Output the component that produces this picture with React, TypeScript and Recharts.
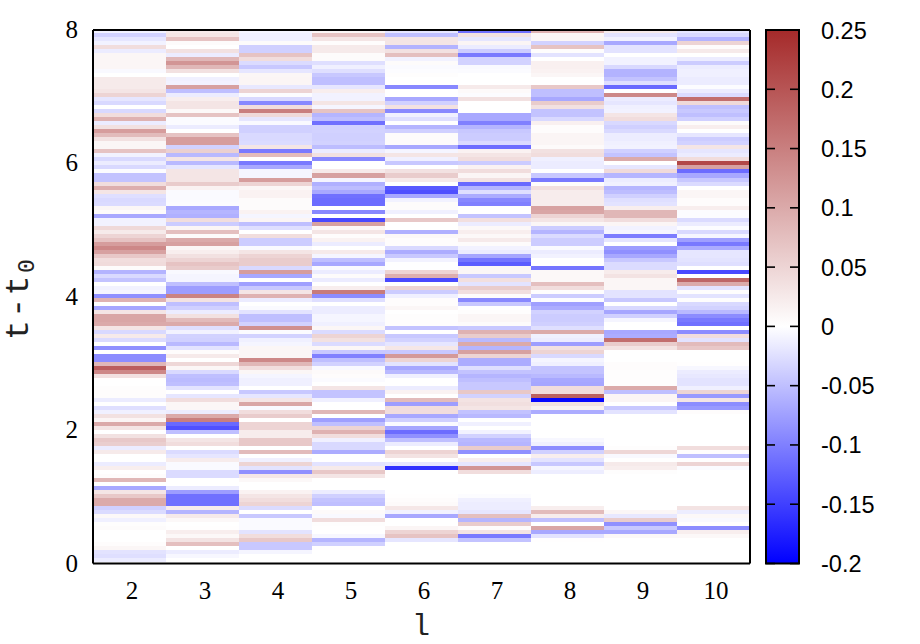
import { BarChart, Bar, ComposedChart, ReferenceArea, XAxis, YAxis, Label } from 'recharts'

const levels = [2, 3, 4, 5, 6, 7, 8, 9, 10]
const timeTicks = [0, 2, 4, 6, 8]
const scaleTicks = [-0.2, -0.15, -0.1, -0.05, 0, 0.05, 0.1, 0.15, 0.2, 0.25]
const rowStep = 0.0601
const bottomPad = 0.0185

// one value per time row, top of the plot first
const l2 = [
  -.01, -.035, -.02, -.01, .04, -.015, .01, .01, .01, .01,
  -.005, 0, .025, .025, .025, .03, .05, -.02, -.03, 0,
  -.03, .04, .09, -.015, .035, .115, .08, .035, .01, .01,
  .07, -.01, -.03, -.015, -.03, -.002, -.047, -.047, .04, .095,
  .03, -.025, -.03, -.028, .01, .005, -.068, -.01, -.01, .045,
  .025, .05, .07, .115, .14, .11, .065, .04, .042, .005,
  -.06, -.03, -.047, 0, -.01, -.008, -.087, .09, 0, -.07,
  .03, .105, .105, .1, .03, -.03, .025, -.028, 0, -.087,
  0, -.09, -.09, .085, .19, .14, .035, 0, 0, .002,
  .004, .004, -.015, 0, -.025, -.012, .035, .012, .1, .03,
  0, .035, .065, .058, -.015, .025, 0, 0, -.015, .02,
  0, .004, .085, 0, -.068, .03, .065, .1, .1, -.037,
  -.028, .008, -.012, .002, .005, 0, 0, 0, .004, .01,
  -.022, -.025, -.015,
]
const l3 = [
  .025, .03, .07, .005, 0, .035, -.015, .085, .125, .085,
  .035, 0, -.012, -.01, .11, -.05, -.015, .02, .03, .03,
  .008, .07, -.003, -.003, -.015, 0, .07, .115, .115, -.035,
  .055, -.055, .03, -.055, -.02, .03, .03, .03, .06, .015,
  -.004, -.004, -.004, -.003, -.068, -.058, -.062, .04, -.04, .012,
  .075, .005, .1, .11, .01, .02, .035, .05, .07, .06,
  -.005, -.008, -.008, -.05, -.077, -.077, .145, .033, -.05, -.037,
  -.015, .035, .08, .1, -.025, -.01, -.035, -.037, -.055, -.022,
  .003, .025, 0, .047, .01, -.03, -.05, -.053, -.05, -.022,
  0, -.02, .04, .01, .01, -.015, .1, .15, -.118, -.137,
  -.05, 0, .03, .04, 0, -.028, -.02, .022, -.004, -.004,
  -.028, -.028, 0, 0, -.015, -.077, -.112, -.112, -.112, .022,
  -.058, .025, .008, 0, .001, .02, .008, .033, .075, 0,
  -.015, -.006, 0,
]
const l4 = [
  -.008, -.012, -.012, .005, -.037, -.037, .07, .04, -.028, -.043,
  -.02, .01, .012, .012, -.018, .05, -.002, -.03, -.093, .04,
  .15, .045, -.02, -.005, -.037, -.037, -.03, -.03, -.028, .03,
  -.105, .08, 0, -.105, -.068, -.008, -.008, .115, .05, .01,
  .015, .015, .005, .005, .005, .015, -.008, .012, -.05, -.025,
  0, .04, -.04, -.04, -.005, .03, .05, .06, .06, -.03,
  .115, -.068, 0, -.075, -.043, .03, .09, -.015, 0, -.004,
  -.022, -.05, -.05, -.035, .13, -.003, -.035, -.012, -.008, .01,
  .01, .01, .14, .085, .04, .01, -.008, -.012, -.012, 0,
  -.043, -.02, .03, .105, -.005, .04, .06, 0, .05, .05,
  .022, .022, .065, .065, 0, .08, 0, -.012, .05, -.022,
  -.087, .028, .008, 0, 0, .015, .03, .04, .05, -.028,
  0, -.043, -.004, -.004, -.004, -.022, .04, .065, -.043, -.043,
  -.008, 0, 0,
]
const l5 = [
  .01, .07, .03, .003, .025, .025, .005, .005, -.025, -.012,
  -.025, -.043, -.05, -.05, -.02, .02, -.01, -.01, .03, -.008,
  .07, -.058, -.05, -.112, -.035, -.035, -.037, -.037, -.035, -.052,
  -.015, .035, -.093, 0, 0, .025, .11, -.008, -.062, -.052,
  -.068, -.112, -.115, -.115, 0, -.093, 0, -.143, .11, .008,
  .03, .004, .015, -.015, 0, .025, -.008, -.05, -.068, -.004,
  -.015, .005, -.015, 0, .02, .155, -.09, -.025, 0, -.015,
  -.015, -.008, -.008, -.012, .01, -.028, .05, .035, -.028, .01,
  -.043, -.1, -.05, -.035, -.005, .006, .003, -.003, 0, .03,
  -.047, -.047, -.012, 0, 0, .085, 0, -.075, -.05, .05,
  .09, .04, -.012, -.03, -.03, -.065, 0, 0, -.022, .025,
  .065, .03, 0, 0, 0, -.015, -.037, -.047, -.05, 0,
  .006, -.005, .04, .002, .001, 0, -.006, -.058, -.037, .001,
  0, 0, 0,
]
const l6 = [
  -.02, -.05, .03, .03, -.06, .035, .075, -.01, .005, -.004,
  -.002, .002, 0, 0, -.093, 0, 0, -.068, -.037, .035,
  -.093, -.012, -.025, 0, -.058, -.037, .005, .005, .005, -.068,
  -.008, .03, -.012, -.043, 0, .035, .06, .025, 0, -.13,
  -.137, -.068, -.01, .005, .005, -.012, 0, .065, 0, 0,
  -.062, .008, .004, .003, -.03, -.065, -.043, -.01, -.001, -.001,
  .05, .095, -.143, 0, .05, -.04, -.012, .003, .003, .01,
  0, .002, .002, .002, -.047, 0, -.043, -.035, -.02, .028,
  -.043, .12, .05, -.022, -.07, -.055, -.012, 0, 0, -.015,
  .015, 0, .08, -.077, .04, .04, -.068, -.037, -.004, -.07,
  -.115, -.087, -.05, -.015, 0, .05, .033, 0, -.02, -.162,
  0, 0, 0, 0, 0, 0, .001, .003, .006, .028,
  -.01, -.068, 0, 0, .012, .05, .07, -.02, 0, 0,
  0, 0, 0,
]
const l7 = [
  -.112, .035, -.02, .012, -.015, -.04, -.105, -.035, -.035, -.005,
  -.003, 0, 0, 0, .025, .006, -.002, .035, 0, 0,
  0, -.068, -.068, -.1, -.058, -.043, -.04, -.04, -.03, -.115,
  .015, .03, .04, -.04, .015, .04, .012, .035, -.118, -.058,
  -.025, -.065, -.093, -.1, 0, 0, -.047, .037, -.015, .008,
  .02, .008, .025, .005, -.01, -.015, -.07, -.108, -.128, .01,
  .01, -.043, .037, -.022, .06, .037, .004, -.093, -.043, 0,
  .002, .01, .01, .005, -.043, .09, .06, -.055, .1, -.058,
  .11, .05, -.065, -.065, -.025, -.047, -.058, -.05, -.043, -.043,
  .065, -.035, .033, .038, .03, -.047, -.055, 0, -.012, 0,
  -.01, -.035, -.055, -.058, .06, -.087, 0, .02, -.02, .125,
  .04, 0, 0, 0, 0, 0, -.002, -.012, -.014, -.014,
  -.02, .075, -.058, .06, .003, .033, -.105, -.047, 0, 0,
  0, 0, 0,
]
const l8 = [
  .09, .01, .01, -.035, .07, .002, -.022, 0, .018, .018,
  .015, .01, 0, 0, .065, -.05, -.05, -.068, .06, .035,
  -.047, -.047, -.03, .018, .003, .003, .012, .012, .012, .006,
  .035, .04, -.012, -.015, -.015, 0, -.043, -.105, .004, .037,
  .022, .022, .022, .022, .11, .105, .05, .03, .01, -.04,
  -.058, -.028, -.04, -.04, -.005, -.015, -.01, 0, 0, -.108,
  .008, .008, .008, .075, .04, .002, -.04, -.002, -.075, -.065,
  -.035, -.04, -.04, -.037, -.025, .1, -.012, -.015, -.077, .035,
  .05, -.03, -.008, -.012, -.047, -.047, -.055, -.068, -.07, .04,
  .04, .185, -.195, .035, .015, -.065, 0, 0, 0, 0,
  0, 0, -.006, -.012, -.09, -.037, .02, -.022, -.043, -.008,
  -.014, 0, 0, 0, 0, 0, 0, 0, 0, .02,
  .08, .022, -.05, 0, .105, -.068, -.022, .001, 0, 0,
  0, 0, 0,
]
const l9 = [
  .025, -.022, -.01, -.068, -.022, -.022, 0, -.01, -.01, -.03,
  -.06, -.06, -.047, -.025, -.118, 0, .14, -.015, -.02, -.012,
  -.01, .03, .04, -.03, -.037, -.03, -.015, -.015, -.012, -.01,
  -.037, -.047, .1, 0, -.02, .043, -.058, -.015, -.012, -.058,
  -.052, -.037, -.025, -.022, .02, .085, .085, .04, .012, -.01,
  -.008, -.102, -.02, 0, -.077, -.087, -.068, -.043, -.028, -.028,
  .022, .033, .01, .01, .01, -.022, -.022, -.043, 0, -.03,
  -.07, -.037, -.008, 0, 0, -.068, -.065, .17, .06, .033,
  0, 0, 0, .004, .003, .002, .002, .002, .002, .1,
  -.05, .012, .012, 0, -.043, -.022, 0, 0, 0, 0,
  0, 0, 0, 0, .002, .047, -.005, 0, .025, .02,
  .002, 0, 0, 0, 0, 0, 0, 0, 0, 0,
  .01, -.018, .06, -.087, -.043, -.068, .008, 0, 0, 0,
  0, 0, 0,
]
const l10 = [
  -.02, -.03, -.06, .05, .003, .025, 0, -.015, -.04, -.015,
  -.012, -.012, -.015, -.015, -.002, -.015, -.028, .17, .045, -.05,
  -.043, -.05, -.037, .005, .02, 0, -.02, -.04, -.035, .03,
  -.02, -.015, .04, .215, .11, -.115, -.068, -.043, -.028, 0,
  .01, .01, .004, .004, .02, -.002, -.002, -.028, -.015, -.002,
  -.03, -.008, -.075, -.105, -.065, -.02, -.02, -.022, -.025, 0,
  -.143, 0, .18, .1, -.022, .002, -.022, .002, -.03, -.035,
  -.055, -.09, -.105, -.112, 0, -.09, .04, -.022, .08, .065,
  0, 0, 0, .001, -.006, -.015, -.018, -.022, -.022, -.012,
  .05, -.08, .03, -.09, -.08, .004, 0, 0, 0, 0,
  0, 0, 0, 0, .04, .002, -.05, .001, .05, -.003,
  0, 0, 0, 0, 0, 0, 0, 0, 0, .033,
  -.014, .008, -.005, .001, -.09, .02, .008, 0, 0, 0,
  0, 0, 0,
]
const columns = [l2, l3, l4, l5, l6, l7, l8, l9, l10]
const rows = l2.map((_, i) => i)

// table for the stack: bottom row goes first
const tableData = levels.map((l) => {
  const entry: Record<string, number> = { l, pad: bottomPad }
  rows.forEach((r) => {
    entry[`r${r}`] = rowStep
  })
  return entry
})

const BLUE = [0, 0, 255]
const BROWN = [165, 42, 42]

function colorOf(v: number) {
  const end = v < 0 ? BLUE : BROWN
  const f = v < 0 ? Math.min(-v / 0.2, 1) : Math.min(v / 0.25, 1)
  const c = end.map((e) => Math.round(255 + (e - 255) * f))
  return `rgb(${c[0]},${c[1]},${c[2]})`
}

const serif = '"Liberation Serif", serif'
const sans = '"Liberation Sans", sans-serif'
const mono = '"Liberation Mono", monospace'

function XTick({ x, y, payload }: any) {
  return (
    <text x={x + 2.5} y={y + 27} textAnchor="middle" fontFamily={serif} fontSize={25} fill="#000">
      {payload.value}
    </text>
  )
}

function YTick({ x, y, payload }: any) {
  return (
    <text x={x - 7} y={y + 8} textAnchor="end" fontFamily={serif} fontSize={25} fill="#000">
      {payload.value}
    </text>
  )
}

function ScaleTick({ y, payload }: any) {
  // bar sits between 766 and 799, ticks point inward from both sides
  return (
    <g>
      <line x1={766} x2={775} y1={y} y2={y} stroke="#000" strokeWidth={1.6} />
      <line x1={790} x2={799} y1={y} y2={y} stroke="#000" strokeWidth={1.6} />
      <text x={821} y={y + 8.5} fontFamily={sans} fontSize={23.5} fill="#000">
        {String(payload.value)}
      </text>
    </g>
  )
}

function YTitle() {
  return (
    <text transform="translate(28,340) rotate(-90)" fontFamily={mono} fontSize={33} letterSpacing={2.5} fill="#222">
      t-t
      <tspan fontSize={23} dy={6}>0</tspan>
    </text>
  )
}

function XTitle() {
  return (
    <text x={421} y={635} textAnchor="middle" fontFamily={mono} fontSize={30} fill="#222">
      l
    </text>
  )
}

export default function App() {
  return (
    <div style={{ position: 'absolute', left: 0, top: 0, width: 920, height: 644, background: '#fff' }}>
      <div style={{ position: 'absolute', left: 0, top: 0 }}>
        <BarChart
          width={920}
          height={644}
          data={tableData}
          barCategoryGap={0}
          margin={{ top: 29, right: 169, bottom: 0, left: 0 }}
        >
          <Bar dataKey="pad" stackId="a" fill="#fff" isAnimationActive={false} />
          {[...rows].reverse().map((r) => (
            <Bar
              key={r}
              dataKey={`r${r}`}
              stackId="a"
              isAnimationActive={false}
              shape={(p: any) => (
                <rect
                  x={p.x}
                  y={p.y}
                  width={p.width}
                  height={p.height}
                  fill={colorOf(columns[p.index][r])}
                  shapeRendering="crispEdges"
                />
              )}
            />
          ))}
          <XAxis
            dataKey="l"
            height={80.5}
            tick={<XTick />}
            tickLine={false}
            axisLine={{ stroke: '#000', strokeWidth: 2 }}
            interval={0}
          >
            <Label content={<XTitle />} />
          </XAxis>
          <XAxis
            xAxisId="top"
            orientation="top"
            dataKey="l"
            height={1}
            tick={false}
            tickLine={false}
            axisLine={{ stroke: '#000', strokeWidth: 2 }}
          />
          <YAxis
            type="number"
            domain={[0, 8]}
            ticks={timeTicks}
            width={93}
            allowDataOverflow
            tick={<YTick />}
            tickLine={false}
            axisLine={{ stroke: '#000', strokeWidth: 2 }}
          >
            <Label content={<YTitle />} />
          </YAxis>
          <YAxis
            yAxisId="right"
            orientation="right"
            type="number"
            domain={[0, 8]}
            width={1}
            tick={false}
            tickLine={false}
            axisLine={{ stroke: '#000', strokeWidth: 2 }}
          />
        </BarChart>
      </div>
      <div style={{ position: 'absolute', left: 0, top: 0 }}>
        <ComposedChart
          width={920}
          height={644}
          data={levels.map((l) => ({ l }))}
          margin={{ top: 30, right: 120, bottom: 80.5, left: 766 }}
        >
          <defs>
            <linearGradient id="scaleFill" x1="0" y1="0" x2="0" y2="1">
              <stop offset="0" stopColor={colorOf(0.25)} />
              <stop offset={0.25 / 0.45} stopColor="#fff" />
              <stop offset="1" stopColor={colorOf(-0.2)} />
            </linearGradient>
          </defs>
          <XAxis dataKey="l" hide />
          <YAxis
            orientation="right"
            type="number"
            domain={[-0.2, 0.25]}
            ticks={scaleTicks}
            width={1}
            interval={0}
            allowDataOverflow
            tick={<ScaleTick />}
            tickLine={false}
            axisLine={false}
          />
          <ReferenceArea y1={-0.2} y2={0.25} fill="url(#scaleFill)" fillOpacity={1} stroke="#000" strokeWidth={2} />
        </ComposedChart>
      </div>
    </div>
  )
}
